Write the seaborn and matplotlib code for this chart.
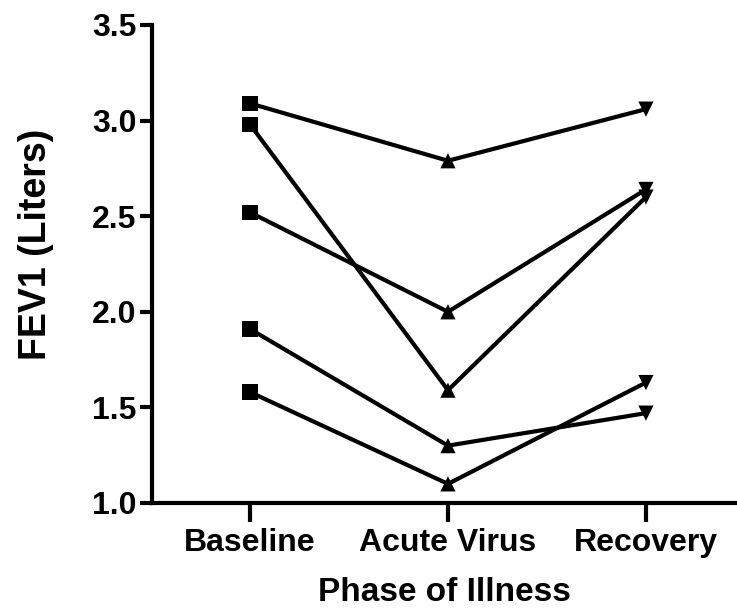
import matplotlib
matplotlib.use("Agg")
import matplotlib.pyplot as plt
import seaborn as sns
import pandas as pd

phases = ["Baseline", "Acute Virus", "Recovery"]
subjects = ["S1", "S2", "S3", "S4", "S5"]
baseline = [3.09, 2.98, 2.52, 1.91, 1.58]
acute = [2.79, 1.59, 2.00, 1.30, 1.10]
recovery = [3.06, 2.60, 2.64, 1.47, 1.63]
y_ticks = [1.0, 1.5, 2.0, 2.5, 3.0, 3.5]

rows = []
for i, s in enumerate(subjects):
    for p, vals in zip(phases, [baseline, acute, recovery]):
        rows.append({"subject": s, "phase": p, "fev1": vals[i]})
df = pd.DataFrame(rows)
df["pos"] = pd.Categorical(df["phase"], categories=phases, ordered=True).codes

sns.set_style("ticks")
plt.rcParams["font.family"] = ["Liberation Sans", "DejaVu Sans"]
plt.rcParams["font.weight"] = "bold"
plt.rcParams["text.color"] = "black"
plt.rcParams["axes.labelcolor"] = "black"

fig = plt.figure(figsize=(7.37, 6.14), dpi=100)
ax = fig.add_axes([152 / 737, 111 / 614, 1 - 152 / 737, (503 - 25) / 614])

sns.lineplot(data=df, x="pos", y="fev1", units="subject", estimator=None,
             color="black", linewidth=3.0, ax=ax, legend=False, zorder=2)
sns.scatterplot(data=df, x="pos", y="fev1", style="phase",
                markers={"Baseline": "s", "Acute Virus": "^", "Recovery": "v"},
                style_order=phases, color="black", s=120, linewidth=0,
                ax=ax, legend=False, zorder=3, clip_on=False)

ax.set_xlim(-0.495, 2.46)
ax.set_ylim(1.0, 3.5)
ax.set_xticks(range(len(phases)))
ax.set_xticklabels(phases)
ax.set_yticks(y_ticks)
ax.set_yticklabels([f"{v:.1f}" for v in y_ticks])

for side in ["top", "right"]:
    ax.spines[side].set_visible(False)
for side in ["left", "bottom"]:
    ax.spines[side].set_linewidth(3.0)
    ax.spines[side].set_color("black")

ax.tick_params(axis="x", length=14, width=3.0, pad=4, labelsize=23,
               colors="black", labelcolor="black")
ax.tick_params(axis="y", length=9, width=3.0, pad=2, labelsize=23,
               colors="black", labelcolor="black")
for lab in ax.get_xticklabels() + ax.get_yticklabels():
    lab.set_fontweight("bold")

ax.set_xlabel("Phase of Illness", fontsize=24, fontweight="bold", labelpad=14,
              color="black")
ax.set_ylabel("FEV1 (Liters)", fontsize=27, fontweight="bold", color="black")
ax.yaxis.set_label_coords(-0.168, 0.542)

fig.savefig("out.png", dpi=100)
